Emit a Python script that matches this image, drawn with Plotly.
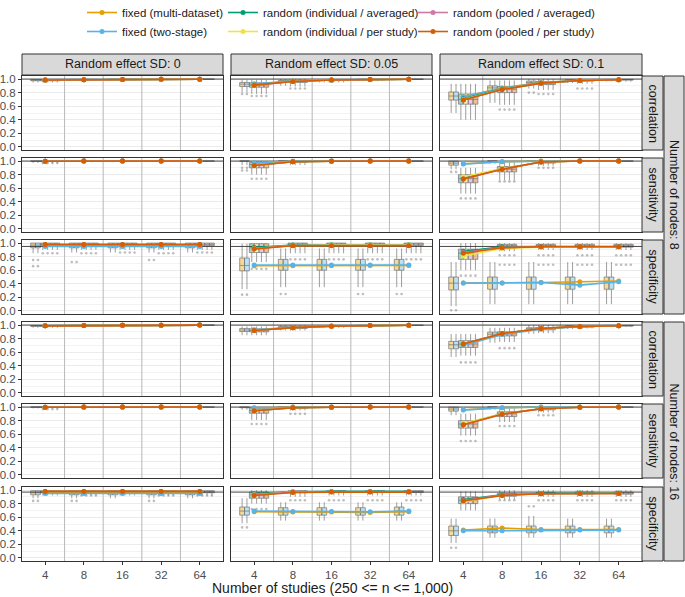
import plotly.graph_objects as go
from plotly.subplots import make_subplots

# ---------------- data ----------------
STUDIES = ["4", "8", "16", "32", "64"]
STUDY_POS = [1, 2, 3, 4, 5]
SD_LABELS = ["Random effect SD: 0", "Random effect SD: 0.05", "Random effect SD: 0.1"]
NODE_LABELS = ["Number of nodes: 8", "Number of nodes: 16"]
METRICS = ["correlation", "sensitivity", "specificity"]
METHODS = ["fixed (multi-dataset)", "fixed (two-stage)",
           "random (individual / averaged)", "random (individual / per study)",
           "random (pooled / averaged)", "random (pooled / per study)"]
COLORS = ["#E69F00", "#56B4E9", "#009E73", "#F0E442", "#CC79A7", "#D55E00"]
FILLS = ["rgba(230,159,0,0.4)", "rgba(86,180,233,0.4)", "rgba(0,158,115,0.4)",
         "rgba(240,228,66,0.4)", "rgba(204,121,167,0.4)", "rgba(213,94,0,0.4)"]
METHOD_GROUP = [0, 0, 1, 1, 1, 1]          # 0 = fixed, 1 = random
REF_LINE = [[1.0, 1.0, 0.95], [1.0, 1.0, 0.97]]   # per nodes, per metric
X_AXIS_TITLE = "Number of studies (250 <= n <= 1,000)"

# mean lines: [SD level][method][studies]
MEAN_CORR_N8 = [
    [[0.985, 0.99, 0.995, 0.997, 0.998], [0.985, 0.99, 0.995, 0.997, 0.998],
     [0.985, 0.99, 0.995, 0.997, 0.998], [0.985, 0.99, 0.995, 0.997, 0.998],
     [0.985, 0.99, 0.995, 0.997, 0.998], [0.985, 0.99, 0.995, 0.997, 0.998]],
    [[0.92, 0.97, 0.985, 0.993, 0.997], [0.93, 0.972, 0.986, 0.993, 0.997],
     [0.915, 0.967, 0.985, 0.993, 0.997], [0.912, 0.966, 0.985, 0.993, 0.997],
     [0.91, 0.965, 0.985, 0.993, 0.997], [0.91, 0.965, 0.985, 0.993, 0.997]],
    [[0.74, 0.87, 0.95, 0.98, 0.99], [0.74, 0.865, 0.945, 0.98, 0.99],
     [0.71, 0.855, 0.94, 0.978, 0.99], [0.70, 0.85, 0.94, 0.978, 0.99],
     [0.69, 0.845, 0.94, 0.978, 0.99], [0.69, 0.845, 0.94, 0.978, 0.99]],
]
MEAN_SENS_N8 = [
    [[0.998, 1.0, 1.0, 1.0, 1.0], [0.998, 1.0, 1.0, 1.0, 1.0],
     [0.998, 1.0, 1.0, 1.0, 1.0], [0.998, 1.0, 1.0, 1.0, 1.0],
     [0.998, 1.0, 1.0, 1.0, 1.0], [0.998, 1.0, 1.0, 1.0, 1.0]],
    [[0.97, 0.998, 1.0, 1.0, 1.0], [0.975, 0.998, 1.0, 1.0, 1.0],
     [0.94, 0.99, 0.998, 1.0, 1.0], [0.94, 0.99, 0.998, 1.0, 1.0],
     [0.935, 0.99, 0.998, 1.0, 1.0], [0.935, 0.99, 0.998, 1.0, 1.0]],
    [[0.96, 0.99, 1.0, 1.0, 1.0], [0.955, 0.99, 0.998, 1.0, 1.0],
     [0.75, 0.885, 0.985, 1.0, 1.0], [0.77, 0.89, 0.985, 1.0, 1.0],
     [0.74, 0.88, 0.985, 1.0, 1.0], [0.735, 0.88, 0.985, 1.0, 1.0]],
]
MEAN_SPEC_N8 = [
    [[0.97, 0.97, 0.97, 0.97, 0.97], [0.95, 0.95, 0.95, 0.95, 0.95],
     [0.975, 0.975, 0.975, 0.975, 0.975], [0.975, 0.975, 0.975, 0.975, 0.975],
     [0.975, 0.975, 0.975, 0.975, 0.975], [0.98, 0.98, 0.98, 0.98, 0.98]],
    [[0.665, 0.665, 0.665, 0.67, 0.67], [0.675, 0.675, 0.675, 0.675, 0.675],
     [0.935, 0.97, 0.975, 0.975, 0.975], [0.92, 0.965, 0.97, 0.97, 0.97],
     [0.915, 0.965, 0.965, 0.965, 0.965], [0.915, 0.96, 0.96, 0.96, 0.96]],
    [[0.41, 0.41, 0.42, 0.43, 0.44], [0.41, 0.41, 0.42, 0.38, 0.43],
     [0.88, 0.945, 0.95, 0.95, 0.95], [0.81, 0.92, 0.94, 0.945, 0.945],
     [0.86, 0.935, 0.945, 0.945, 0.945], [0.85, 0.93, 0.945, 0.945, 0.945]],
]
MEAN_CORR_N16 = [
    [[0.988, 0.993, 0.996, 0.998, 0.999], [0.988, 0.993, 0.996, 0.998, 0.999],
     [0.988, 0.993, 0.996, 0.998, 0.999], [0.988, 0.993, 0.996, 0.998, 0.999],
     [0.988, 0.993, 0.996, 0.998, 0.999], [0.988, 0.993, 0.996, 0.998, 0.999]],
    [[0.925, 0.965, 0.985, 0.993, 0.997], [0.93, 0.968, 0.986, 0.993, 0.997],
     [0.92, 0.962, 0.984, 0.993, 0.997], [0.92, 0.962, 0.984, 0.993, 0.997],
     [0.92, 0.962, 0.984, 0.993, 0.997], [0.92, 0.962, 0.984, 0.993, 0.997]],
    [[0.72, 0.87, 0.95, 0.98, 0.99], [0.70, 0.86, 0.94, 0.975, 0.99],
     [0.72, 0.875, 0.95, 0.98, 0.99], [0.72, 0.875, 0.95, 0.98, 0.99],
     [0.72, 0.875, 0.95, 0.98, 0.99], [0.72, 0.875, 0.95, 0.98, 0.99]],
]
MEAN_SENS_N16 = [
    [[0.998, 1.0, 1.0, 1.0, 1.0], [0.998, 1.0, 1.0, 1.0, 1.0],
     [0.998, 1.0, 1.0, 1.0, 1.0], [0.998, 1.0, 1.0, 1.0, 1.0],
     [0.998, 1.0, 1.0, 1.0, 1.0], [0.998, 1.0, 1.0, 1.0, 1.0]],
    [[0.985, 1.0, 1.0, 1.0, 1.0], [0.99, 1.0, 1.0, 1.0, 1.0],
     [0.945, 0.99, 0.998, 1.0, 1.0], [0.945, 0.99, 0.998, 1.0, 1.0],
     [0.945, 0.99, 0.998, 1.0, 1.0], [0.945, 0.99, 0.998, 1.0, 1.0]],
    [[0.96, 0.99, 1.0, 1.0, 1.0], [0.955, 0.99, 1.0, 1.0, 1.0],
     [0.75, 0.9, 0.975, 0.998, 1.0], [0.76, 0.9, 0.975, 0.998, 1.0],
     [0.74, 0.895, 0.975, 0.998, 1.0], [0.74, 0.895, 0.975, 0.998, 1.0]],
]
MEAN_SPEC_N16 = [
    [[0.97, 0.97, 0.97, 0.97, 0.97], [0.95, 0.95, 0.95, 0.95, 0.95],
     [0.98, 0.98, 0.98, 0.98, 0.98], [0.98, 0.98, 0.98, 0.98, 0.98],
     [0.98, 0.98, 0.98, 0.98, 0.98], [0.98, 0.98, 0.98, 0.98, 0.98]],
    [[0.68, 0.675, 0.675, 0.67, 0.68], [0.69, 0.685, 0.685, 0.68, 0.69],
     [0.945, 0.975, 0.98, 0.98, 0.98], [0.93, 0.97, 0.975, 0.975, 0.975],
     [0.93, 0.97, 0.975, 0.975, 0.975], [0.92, 0.965, 0.97, 0.97, 0.97]],
    [[0.41, 0.44, 0.42, 0.42, 0.42], [0.40, 0.40, 0.41, 0.41, 0.41],
     [0.86, 0.93, 0.95, 0.955, 0.955], [0.83, 0.92, 0.945, 0.95, 0.95],
     [0.845, 0.925, 0.945, 0.95, 0.95], [0.84, 0.92, 0.945, 0.95, 0.95]],
]

# box stats: [SD level][group: fixed, random][lo, q1, med, q3, hi][studies]
BOX_CORR_N8 = [
    [[[0.95, 0.97, 0.98, 0.99, 0.995], [0.975, 0.985, 0.99, 0.995, 0.997],
      [0.985, 0.99, 0.995, 0.997, 0.998], [0.99, 0.995, 0.997, 0.998, 0.999], [1, 1, 1, 1, 1]],
     [[0.95, 0.97, 0.98, 0.99, 0.995], [0.975, 0.985, 0.99, 0.995, 0.997],
      [0.985, 0.99, 0.995, 0.997, 0.998], [0.99, 0.995, 0.997, 0.998, 0.999], [1, 1, 1, 1, 1]]],
    [[[0.80, 0.90, 0.95, 0.97, 0.985], [0.89, 0.955, 0.98, 0.99, 0.995],
      [0.925, 0.97, 0.987, 0.994, 0.997], [0.95, 0.98, 0.993, 0.997, 0.999], [0.99, 1, 1, 1, 1]],
     [[0.78, 0.89, 0.95, 0.97, 0.985], [0.88, 0.95, 0.978, 0.99, 0.995],
      [0.915, 0.968, 0.986, 0.994, 0.997], [0.945, 0.98, 0.993, 0.997, 0.999], [0.99, 1, 1, 1, 1]]],
    [[[0.50, 0.65, 0.86, 0.94, 0.965], [0.69, 0.83, 0.93, 0.97, 0.985],
      [0.75, 0.87, 0.95, 0.98, 0.99], [0.81, 0.90, 0.97, 0.99, 0.995], [0.93, 0.98, 1, 1, 1]],
     [[0.40, 0.62, 0.84, 0.93, 0.96], [0.63, 0.80, 0.92, 0.97, 0.985],
      [0.70, 0.85, 0.94, 0.98, 0.99], [0.78, 0.89, 0.965, 0.99, 0.995], [0.93, 0.98, 1, 1, 1]]],
]
BOX_SENS_N8 = [
    [[[0.97, 0.99, 1, 1, 1], [0.995, 1, 1, 1, 1], [1, 1, 1, 1, 1], [1, 1, 1, 1, 1], [1, 1, 1, 1, 1]],
     [[0.97, 0.99, 1, 1, 1], [0.995, 1, 1, 1, 1], [1, 1, 1, 1, 1], [1, 1, 1, 1, 1], [1, 1, 1, 1, 1]]],
    [[[0.94, 1, 1, 1, 1], [1, 1, 1, 1, 1], [1, 1, 1, 1, 1], [1, 1, 1, 1, 1], [1, 1, 1, 1, 1]],
     [[0.80, 0.94, 0.99, 1, 1], [0.90, 0.98, 1, 1, 1], [0.95, 1, 1, 1, 1], [0.98, 1, 1, 1, 1], [1, 1, 1, 1, 1]]],
    [[[0.88, 0.96, 1, 1, 1], [0.94, 1, 1, 1, 1], [0.97, 1, 1, 1, 1], [1, 1, 1, 1, 1], [1, 1, 1, 1, 1]],
     [[0.52, 0.72, 0.93, 1, 1], [0.68, 0.84, 0.97, 1, 1], [0.74, 0.88, 1, 1, 1], [0.80, 0.92, 1, 1, 1], [0.90, 0.98, 1, 1, 1]]],
]
BOX_SPEC_N8 = [
    [[[0.85, 0.86, 0.86, 0.86, 0.86], [0.93, 0.93, 0.93, 0.93, 0.93], [0.97, 0.97, 0.97, 0.97, 0.97],
      [1, 1, 1, 1, 1], [1, 1, 1, 1, 1]],
     [[0.90, 0.90, 0.90, 0.90, 0.90], [0.96, 0.96, 0.96, 0.96, 0.96], [0.98, 0.98, 0.98, 0.98, 0.98],
      [1, 1, 1, 1, 1], [1, 1, 1, 1, 1]]],
    [[[0.32, 0.35, 0.35, 0.35, 0.35], [0.59, 0.60, 0.60, 0.60, 0.60], [0.67, 0.67, 0.67, 0.67, 0.67],
      [0.78, 0.76, 0.76, 0.76, 0.76], [0.99, 0.92, 0.92, 0.92, 0.92]],
     [[0.72, 0.85, 0.85, 0.85, 0.85], [0.86, 0.965, 0.965, 0.965, 0.965], [0.93, 0.985, 0.985, 0.985, 0.985],
      [0.99, 1, 1, 1, 1], [1, 1, 1, 1, 1]]],
    [[[0.07, 0.10, 0.10, 0.10, 0.10], [0.31, 0.32, 0.32, 0.32, 0.32], [0.41, 0.41, 0.42, 0.41, 0.43],
      [0.50, 0.50, 0.50, 0.50, 0.50], [0.72, 0.72, 0.72, 0.72, 0.72]],
     [[0.60, 0.88, 0.90, 0.90, 0.90], [0.76, 0.93, 0.94, 0.94, 0.94], [0.85, 0.96, 0.96, 0.96, 0.96],
      [0.91, 0.98, 0.98, 0.98, 0.98], [1, 1, 1, 1, 1]]],
]
BOX_CORR_N16 = [
    [[[0.96, 0.975, 0.985, 0.99, 0.995], [0.98, 0.988, 0.993, 0.996, 0.998],
      [0.988, 0.993, 0.996, 0.998, 0.999], [0.993, 0.996, 0.998, 0.999, 1], [1, 1, 1, 1, 1]],
     [[0.96, 0.975, 0.985, 0.99, 0.995], [0.98, 0.988, 0.993, 0.996, 0.998],
      [0.988, 0.993, 0.996, 0.998, 0.999], [0.993, 0.996, 0.998, 0.999, 1], [1, 1, 1, 1, 1]]],
    [[[0.85, 0.92, 0.96, 0.98, 0.99], [0.905, 0.955, 0.98, 0.99, 0.995],
      [0.928, 0.967, 0.986, 0.993, 0.997], [0.95, 0.978, 0.992, 0.997, 0.999], [0.98, 1, 1, 1, 1]],
     [[0.85, 0.92, 0.96, 0.98, 0.99], [0.90, 0.95, 0.978, 0.99, 0.995],
      [0.92, 0.962, 0.984, 0.993, 0.997], [0.945, 0.975, 0.99, 0.997, 0.999], [0.98, 1, 1, 1, 1]]],
    [[[0.53, 0.74, 0.87, 0.94, 0.97], [0.65, 0.83, 0.93, 0.97, 0.985],
      [0.71, 0.865, 0.945, 0.978, 0.99], [0.76, 0.895, 0.96, 0.99, 0.995], [0.87, 0.96, 1, 1, 1]],
     [[0.55, 0.75, 0.88, 0.95, 0.97], [0.67, 0.84, 0.93, 0.97, 0.985],
      [0.72, 0.87, 0.95, 0.98, 0.99], [0.77, 0.90, 0.965, 0.99, 0.995], [0.87, 0.96, 1, 1, 1]]],
]
BOX_SENS_N16 = [
    [[[0.98, 1, 1, 1, 1], [1, 1, 1, 1, 1], [1, 1, 1, 1, 1], [1, 1, 1, 1, 1], [1, 1, 1, 1, 1]],
     [[0.98, 1, 1, 1, 1], [1, 1, 1, 1, 1], [1, 1, 1, 1, 1], [1, 1, 1, 1, 1], [1, 1, 1, 1, 1]]],
    [[[0.96, 1, 1, 1, 1], [0.99, 1, 1, 1, 1], [1, 1, 1, 1, 1], [1, 1, 1, 1, 1], [1, 1, 1, 1, 1]],
     [[0.81, 0.95, 0.99, 1, 1], [0.91, 0.98, 1, 1, 1], [0.95, 0.99, 1, 1, 1], [0.985, 1, 1, 1, 1], [1, 1, 1, 1, 1]]],
    [[[0.88, 0.96, 1, 1, 1], [0.94, 1, 1, 1, 1], [0.97, 1, 1, 1, 1], [1, 1, 1, 1, 1], [1, 1, 1, 1, 1]],
     [[0.58, 0.78, 0.92, 0.99, 1], [0.69, 0.86, 0.96, 1, 1], [0.75, 0.90, 0.98, 1, 1], [0.80, 0.93, 1, 1, 1], [0.90, 0.98, 1, 1, 1]]],
]
BOX_SPEC_N16 = [
    [[[0.88, 0.88, 0.88, 0.88, 0.88], [0.93, 0.93, 0.93, 0.93, 0.93], [0.96, 0.96, 0.96, 0.96, 0.96],
      [0.99, 0.99, 0.99, 0.99, 0.99], [1, 1, 1, 1, 1]],
     [[0.92, 0.92, 0.92, 0.92, 0.92], [0.96, 0.96, 0.96, 0.96, 0.96], [0.98, 0.98, 0.98, 0.98, 0.98],
      [0.99, 0.99, 0.99, 0.99, 0.99], [1, 1, 1, 1, 1]]],
    [[[0.51, 0.55, 0.55, 0.55, 0.55], [0.63, 0.63, 0.63, 0.63, 0.63], [0.69, 0.68, 0.68, 0.68, 0.69],
      [0.75, 0.74, 0.74, 0.74, 0.75], [0.88, 0.82, 0.82, 0.82, 0.82]],
     [[0.80, 0.90, 0.92, 0.92, 0.92], [0.88, 0.96, 0.965, 0.965, 0.965], [0.93, 0.975, 0.98, 0.98, 0.98],
      [0.97, 0.99, 0.99, 0.99, 0.99], [1, 1, 1, 1, 1]]],
    [[[0.22, 0.30, 0.30, 0.30, 0.30], [0.33, 0.37, 0.37, 0.37, 0.37], [0.40, 0.42, 0.41, 0.42, 0.42],
      [0.47, 0.47, 0.47, 0.47, 0.47], [0.58, 0.58, 0.62, 0.58, 0.58]],
     [[0.70, 0.86, 0.90, 0.90, 0.90], [0.80, 0.91, 0.935, 0.94, 0.94], [0.85, 0.93, 0.95, 0.955, 0.955],
      [0.90, 0.95, 0.965, 0.97, 0.97], [0.98, 1, 1, 1, 1]]],
]

# outliers: (nodes index, metric index, SD index, group, study index, value)
OUTLIERS = [
    (0, 0, 1, 1, 0, 0.75), (0, 0, 1, 0, 0, 0.78), (0, 0, 1, 1, 1, 0.86),
    (0, 0, 2, 1, 1, 0.55), (0, 0, 2, 1, 2, 0.78), (0, 0, 2, 0, 2, 0.80),
    (0, 0, 2, 1, 3, 0.86),
    (0, 1, 0, 1, 0, 0.97),
    (0, 1, 1, 0, 0, 0.90), (0, 1, 1, 0, 0, 0.86), (0, 1, 1, 1, 0, 0.74),
    (0, 1, 2, 0, 0, 0.84), (0, 1, 2, 1, 0, 0.45), (0, 1, 2, 1, 1, 0.70),
    (0, 1, 2, 1, 2, 0.90),
    (0, 2, 0, 0, 0, 0.75), (0, 2, 0, 0, 0, 0.66), (0, 2, 0, 1, 0, 0.85),
    (0, 2, 0, 1, 1, 0.85), (0, 2, 0, 0, 1, 0.72), (0, 2, 0, 1, 2, 0.86),
    (0, 2, 0, 1, 3, 0.85), (0, 2, 0, 0, 3, 0.75), (0, 2, 0, 1, 4, 0.86),
    (0, 2, 1, 0, 0, 0.24), (0, 2, 1, 1, 0, 0.62), (0, 2, 1, 0, 1, 0.25),
    (0, 2, 1, 1, 1, 0.76), (0, 2, 1, 1, 2, 0.76), (0, 2, 1, 1, 3, 0.76),
    (0, 2, 1, 1, 4, 0.76), (0, 2, 1, 0, 3, 0.25), (0, 2, 1, 0, 4, 0.25),
    (0, 2, 2, 0, 0, 0.01), (0, 2, 2, 1, 0, 0.52), (0, 2, 2, 1, 1, 0.82),
    (0, 2, 2, 1, 1, 0.68), (0, 2, 2, 1, 2, 0.82), (0, 2, 2, 1, 2, 0.68),
    (0, 2, 2, 1, 3, 0.82), (0, 2, 2, 1, 3, 0.68), (0, 2, 2, 1, 4, 0.82),
    (0, 2, 2, 1, 4, 0.68),
    (1, 0, 2, 1, 0, 0.45), (1, 0, 2, 1, 1, 0.66),
    (1, 1, 0, 1, 0, 0.97),
    (1, 1, 1, 1, 0, 0.75), (1, 1, 1, 1, 1, 0.90),
    (1, 1, 2, 1, 0, 0.50), (1, 1, 2, 1, 1, 0.72), (1, 1, 2, 1, 2, 0.88),
    (1, 2, 0, 0, 0, 0.84), (1, 2, 0, 0, 1, 0.84), (1, 2, 0, 1, 1, 0.92),
    (1, 2, 0, 0, 3, 0.84), (1, 2, 0, 1, 3, 0.92), (1, 2, 0, 1, 4, 0.92),
    (1, 2, 1, 0, 0, 0.45), (1, 2, 1, 1, 0, 0.72), (1, 2, 1, 1, 1, 0.85),
    (1, 2, 1, 1, 2, 0.85), (1, 2, 1, 1, 3, 0.85), (1, 2, 1, 1, 4, 0.85),
    (1, 2, 2, 0, 0, 0.15), (1, 2, 2, 1, 1, 0.85), (1, 2, 2, 0, 2, 0.76),
    (1, 2, 2, 1, 2, 0.85), (1, 2, 2, 1, 3, 0.85), (1, 2, 2, 1, 4, 0.85),
]

MEANS = [[MEAN_CORR_N8, MEAN_SENS_N8, MEAN_SPEC_N8],
         [MEAN_CORR_N16, MEAN_SENS_N16, MEAN_SPEC_N16]]
BOXES = [[BOX_CORR_N8, BOX_SENS_N8, BOX_SPEC_N8],
         [BOX_CORR_N16, BOX_SENS_N16, BOX_SPEC_N16]]

# ---------------- layout geometry (page pixels) ----------------
W, H = 685, 597
COL_PX = [(22, 223), (231, 432), (440, 642)]
ROW_PX = [(76, 150), (158, 232), (240, 314), (322, 396), (404, 478), (487, 561)]
X_RANGE = [0.4, 5.6]
Y_RANGE = [-0.045, 1.045]
BOX_GAP = 0.25
BOX_W = (1 - BOX_GAP) / len(METHODS)     # dodge width of one box
FONT = "Liberation Sans, Arial, sans-serif"


def fx(px):
    return px / W


def fy(px):
    return 1 - px / H


# separators between study categories (midpoints of neighbouring positions)
SEP_X, SEP_Y = [], []
for a, b in zip(STUDY_POS[:-1], STUDY_POS[1:]):
    SEP_X += [(a + b) / 2, (a + b) / 2, None]
    SEP_Y += [Y_RANGE[0], Y_RANGE[1], None]

fig = make_subplots(rows=6, cols=3)

for ni in range(2):
    for mi in range(3):
        row = ni * 3 + mi
        for si in range(3):
            r, c = row + 1, si + 1
            stats_groups = BOXES[ni][mi][si]
            means = MEANS[ni][mi][si]
            fig.add_trace(go.Scatter(
                x=SEP_X, y=SEP_Y, mode="lines",
                line=dict(color="#bdbdbd", width=1.1),
                showlegend=False, hoverinfo="skip"), row=r, col=c)
            fig.add_trace(go.Scatter(
                x=X_RANGE, y=[REF_LINE[ni][mi]] * 2, mode="lines",
                line=dict(color="#333333", width=0.9),
                showlegend=False, hoverinfo="skip"), row=r, col=c)
            for k in range(6):
                lo, q1, med, q3, hi = stats_groups[METHOD_GROUP[k]]
                fig.add_trace(go.Box(
                    x=STUDY_POS, q1=q1, median=med, q3=q3,
                    lowerfence=lo, upperfence=hi,
                    orientation="v", boxpoints=False,
                    fillcolor=FILLS[k],
                    line=dict(color="rgba(120,120,120,0.9)", width=0.8),
                    whiskerwidth=0, showlegend=False, hoverinfo="skip",
                    offsetgroup=str(k),
                ), row=r, col=c)
            # outliers, dodged like the boxes
            ox, oy = [], []
            for (o_n, o_m, o_s, o_g, o_i, o_v) in OUTLIERS:
                if (o_n, o_m, o_s) != (ni, mi, si):
                    continue
                for k in range(6):
                    if METHOD_GROUP[k] == o_g:
                        ox.append(STUDY_POS[o_i] + (k - 2.5) * BOX_W)
                        oy.append(o_v)
            if ox:
                fig.add_trace(go.Scatter(
                    x=ox, y=oy, mode="markers",
                    marker=dict(color="rgba(110,110,110,0.45)", size=2.6),
                    showlegend=False, hoverinfo="skip"), row=r, col=c)
            for k in range(6):
                show = (r == 1 and c == 1)
                fig.add_trace(go.Scatter(
                    x=STUDY_POS, y=means[k], mode="lines+markers",
                    line=dict(color=COLORS[k], width=1.6),
                    marker=dict(color=COLORS[k], size=5),
                    name=METHODS[k], showlegend=show,
                    legend=["legend", "legend2", "legend3"][k // 2],
                    hoverinfo="skip",
                ), row=r, col=c)

for row in range(6):
    for col in range(3):
        idx = row * 3 + col + 1
        sx = "" if idx == 1 else str(idx)
        x0, x1 = COL_PX[col]
        y0, y1 = ROW_PX[row]
        fig.layout["xaxis" + sx].update(
            domain=[fx(x0), fx(x1)], range=X_RANGE,
            tickmode="array", tickvals=STUDY_POS, ticktext=STUDIES,
            showticklabels=(row == 5), ticks="outside" if row == 5 else "",
            ticklen=3, tickcolor="#333333", tickwidth=1,
            showgrid=False, zeroline=False,
            showline=True, mirror=True, linecolor="#333333", linewidth=1,
            tickfont=dict(family=FONT, size=11.5, color="#4d4d4d"),
            automargin=False, fixedrange=True,
        )
        fig.layout["yaxis" + sx].update(
            domain=[fy(y1), fy(y0)], range=Y_RANGE,
            tickmode="array", tickvals=[0, 0.2, 0.4, 0.6, 0.8, 1.0],
            ticktext=["0.0", "0.2", "0.4", "0.6", "0.8", "1.0"],
            showticklabels=(col == 0), ticks="outside" if col == 0 else "",
            ticklen=3, tickcolor="#333333", tickwidth=1,
            showgrid=True, gridcolor="#ebebeb", gridwidth=1,
            minor=dict(tickvals=[0.1, 0.3, 0.5, 0.7, 0.9], showgrid=True,
                       gridcolor="#f3f3f3", gridwidth=0.6, ticks=""),
            zeroline=False,
            showline=True, mirror=True, linecolor="#333333", linewidth=1,
            tickfont=dict(family=FONT, size=11.5, color="#4d4d4d"),
            automargin=False, fixedrange=True,
        )

shapes = []
annotations = []
STRIP_FILL = "#d9d9d9"
STRIP_LINE = "#333333"
for col in range(3):
    x0, x1 = COL_PX[col]
    shapes.append(dict(type="rect", xref="paper", yref="paper",
                       x0=fx(x0), x1=fx(x1), y0=fy(75), y1=fy(54),
                       fillcolor=STRIP_FILL, line=dict(color=STRIP_LINE, width=1)))
    annotations.append(dict(text=SD_LABELS[col], xref="paper", yref="paper",
                            x=fx((x0 + x1) / 2), y=fy(64.5), showarrow=False,
                            font=dict(family=FONT, size=12.5, color="#1a1a1a"),
                            xanchor="center", yanchor="middle"))
for row in range(6):
    y0, y1 = ROW_PX[row]
    shapes.append(dict(type="rect", xref="paper", yref="paper",
                       x0=fx(642), x1=fx(663), y0=fy(y1), y1=fy(y0),
                       fillcolor=STRIP_FILL, line=dict(color=STRIP_LINE, width=1)))
    annotations.append(dict(text=METRICS[row % 3], xref="paper", yref="paper",
                            x=fx(652.5), y=fy((y0 + y1) / 2), showarrow=False,
                            textangle=90,
                            font=dict(family=FONT, size=12.5, color="#1a1a1a"),
                            xanchor="center", yanchor="middle"))
for ni in range(2):
    y0 = ROW_PX[ni * 3][0]
    y1 = ROW_PX[ni * 3 + 2][1]
    shapes.append(dict(type="rect", xref="paper", yref="paper",
                       x0=fx(664), x1=fx(684), y0=fy(y1), y1=fy(y0),
                       fillcolor=STRIP_FILL, line=dict(color=STRIP_LINE, width=1)))
    annotations.append(dict(text=NODE_LABELS[ni], xref="paper", yref="paper",
                            x=fx(674), y=fy((y0 + y1) / 2), showarrow=False,
                            textangle=90,
                            font=dict(family=FONT, size=12.5, color="#1a1a1a"),
                            xanchor="center", yanchor="middle"))
annotations.append(dict(text=X_AXIS_TITLE, xref="paper", yref="paper",
                        x=fx((22 + 642) / 2), y=fy(588), showarrow=False,
                        font=dict(family=FONT, size=14, color="#1a1a1a"),
                        xanchor="center", yanchor="middle"))

legend_common = dict(orientation="v", yanchor="top", xanchor="left", y=fy(-2),
                     bgcolor="rgba(0,0,0,0)", borderwidth=0,
                     font=dict(family=FONT, size=11.5, color="#1a1a1a"),
                     tracegroupgap=0, itemwidth=30)

fig.update_layout(
    width=W, height=H, template="none",
    margin=dict(l=0, r=0, t=0, b=0, autoexpand=False),
    paper_bgcolor="white", plot_bgcolor="white",
    boxmode="group", boxgap=BOX_GAP, boxgroupgap=0.0,
    shapes=shapes, annotations=annotations,
    legend=dict(legend_common, x=fx(82)),
    legend2=dict(legend_common, x=fx(223)),
    legend3=dict(legend_common, x=fx(413)),
    font=dict(family=FONT),
)

fig.write_html("out.html", config={"displayModeBar": False},
               post_script="document.body.style.margin='0';")
